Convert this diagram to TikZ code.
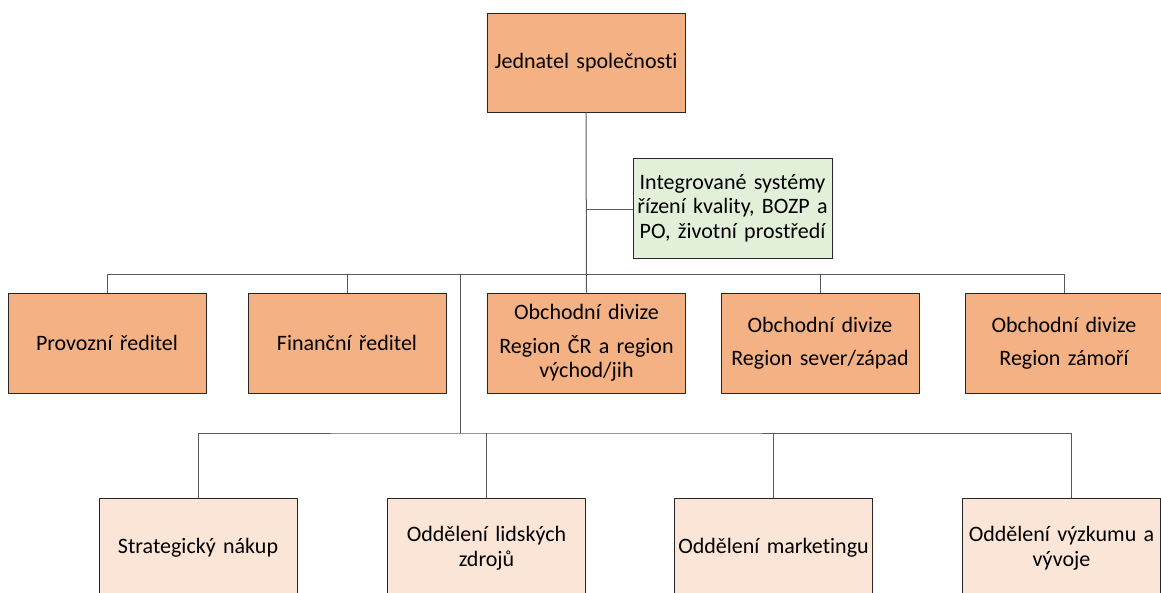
\documentclass[tikz,border=0pt]{standalone}
\usepackage{fontspec}
\setmainfont[Ligatures=NoCommon]{Carlito}
\definecolor{orangefill}{HTML}{F4B183}
\definecolor{peachfill}{HTML}{FBE5D6}
\definecolor{greenfill}{HTML}{E2F0D9}
\definecolor{linegray}{HTML}{595959}
\begin{document}
\begin{tikzpicture}[x=1pt,y=-1pt,
  box/.style={draw=black!85, line width=0.8pt, minimum width=198pt, minimum height=100pt,
    inner sep=2pt, align=center, text width=194pt, font=\fontsize{22}{24.5}\selectfont},
  orangebox/.style={box, fill=orangefill},
  peachbox/.style={box, fill=peachfill},
  greenbox/.style={box, fill=greenfill, minimum width=199pt, text width=195pt},
  conn/.style={draw=linegray, line width=1pt}]
\useasboundingbox (0,0) rectangle (1161,592);
\clip (0,0) rectangle (1161,592);
% top
\node[orangebox, minimum height=99pt] (top) at (586,62.5) {Jednatel společnosti};
\node[greenbox] (qs) at (732.5,208) {Integrované systémy\\řízení kvality, BOZP a\\PO, životní prostředí};
% middle row
\node[orangebox] (p1) at (107,343) {Provozní ředitel};
\node[orangebox] (p2) at (347,343) {Finanční ředitel};
\node[orangebox] (p3) at (586.5,343) {Obchodní divize\\[9pt]Region ČR a region\\východ/jih};
\node[orangebox] (p4) at (820,343) {Obchodní divize\\[9pt]Region sever/západ};
\node[orangebox] (p5) at (1064,343) {Obchodní divize\\[9pt]Region zámoří};
% bottom row
\node[peachbox] (b1) at (198,548) {Strategický nákup};
\node[peachbox] (b2) at (486.5,548) {Oddělení lidských\\zdrojů};
\node[peachbox] (b3) at (773.5,548) {Oddělení marketingu};
\node[peachbox, minimum width=197pt] (b4) at (1061.5,548) {Oddělení výzkumu a\\vývoje};
% coordinates
\coordinate (busL) at (107,274);
\coordinate (qsj) at (586,209);
\coordinate (split) at (460,274);
\coordinate (low) at (460,433);
\coordinate (b4top) at ([xshift=9.5pt]b4.north);
% connectors
\draw[conn] (top.south) -- (p3.north);
\draw[conn] (qsj) -- (qs.west |- qsj);
\draw[conn] (p1.north) |- (busL) -| (p5.north);
\draw[conn] (p2.north) -- (p2.north |- busL);
\draw[conn] (p4.north) -- (p4.north |- busL);
\draw[conn] (split) -- (low);
\draw[conn] (b1.north) |- (low) -| (b4top);
\draw[conn] (b2.north) -- (b2.north |- low);
\draw[conn] (b3.north) -- (b3.north |- low);
\end{tikzpicture}
\end{document}
